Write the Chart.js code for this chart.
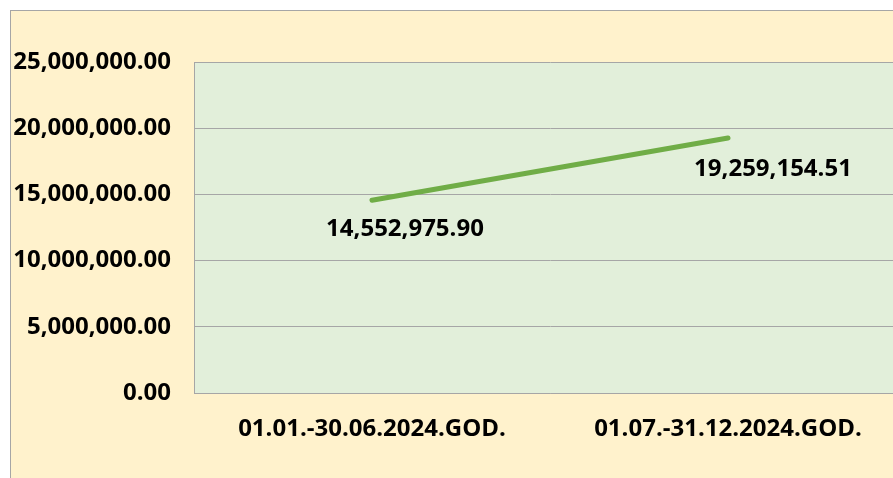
<!DOCTYPE html>
<html>
<head>
<meta charset="utf-8">
<script src="https://cdn.jsdelivr.net/npm/chart.js@4.4.1/dist/chart.umd.min.js"></script>
<style>
  html, body { margin: 0; padding: 0; background: #ffffff; overflow: hidden; width: 893px; height: 478px; }
  #wrap { position: absolute; left: 10px; top: 10px; width: 920px; height: 480px;
          background: #FFF2CC; border-top: 1px solid #A6A6A6; border-left: 1px solid #A6A6A6; }
  canvas { display: block; }
</style>
</head>
<body>
<div id="wrap"><canvas id="c" width="920" height="480"></canvas></div>
<script>
const categories = ["01.01.-30.06.2024.GOD.", "01.07.-31.12.2024.GOD."];
const seriesValues = [14552975.90, 19259154.51];
const yTickValues = [0, 5000000, 10000000, 15000000, 20000000, 25000000];

const FONT = { family: "'Open Sans', sans-serif", weight: "bold", size: 24 };
const fmt = v => Number(v).toLocaleString('en-US', { minimumFractionDigits: 2, maximumFractionDigits: 2 });

const plotBg = {
  id: 'plotBg',
  beforeDraw(chart) {
    const { ctx, chartArea: a } = chart;
    ctx.save();
    ctx.fillStyle = '#E2EFDA';
    ctx.fillRect(a.left, a.top, a.right - a.left, a.bottom - a.top);
    ctx.restore();
  }
};

const valueLabels = {
  id: 'valueLabels',
  afterDatasetsDraw(chart, args, opts) {
    const { ctx } = chart;
    const meta = chart.getDatasetMeta(0);
    ctx.save();
    ctx.font = `${FONT.weight} ${FONT.size}px ${FONT.family}`;
    ctx.fillStyle = '#000000';
    ctx.textAlign = 'center';
    ctx.textBaseline = 'middle';
    meta.data.forEach((pt, i) => {
      const off = opts.offsets[i] || [0, 0];
      ctx.fillText(fmt(chart.data.datasets[0].data[i]), pt.x + off[0], pt.y + off[1]);
    });
    ctx.restore();
  }
};

new Chart(document.getElementById('c'), {
  type: 'line',
  data: {
    labels: categories,
    datasets: [{
      data: seriesValues,
      borderColor: '#70AD47',
      borderWidth: 5,
      borderCapStyle: 'round',
      pointRadius: 0,
      tension: 0,
      fill: false
    }]
  },
  plugins: [plotBg, valueLabels],
  options: {
    responsive: false,
    animation: false,
    devicePixelRatio: 1,
    layout: { padding: { top: 51, left: 0, right: 25, bottom: 0 } },
    plugins: {
      legend: { display: false },
      tooltip: { enabled: false },
      valueLabels: { offsets: [[33, 29], [45, 31]] }
    },
    scales: {
      x: {
        offset: true,
        grid: { display: false, drawTicks: false },
        border: { display: true, color: '#A6A6A6', width: 1 },
        ticks: { color: '#000000', font: FONT, padding: 22, maxRotation: 0, autoSkip: false },
        afterFit(scale) { scale.height = 98; }
      },
      y: {
        min: 0, max: 25000000,
        afterBuildTicks(scale) { scale.ticks = yTickValues.map(v => ({ value: v })); },
        grid: { color: '#A6A6A6', lineWidth: 1, drawTicks: false },
        border: { display: true, color: '#A6A6A6', width: 1 },
        ticks: { color: '#000000', font: FONT, padding: 23, callback: v => fmt(v) },
        afterFit(scale) { scale.width = 183; }
      }
    }
  }
});
</script>
</body>
</html>
